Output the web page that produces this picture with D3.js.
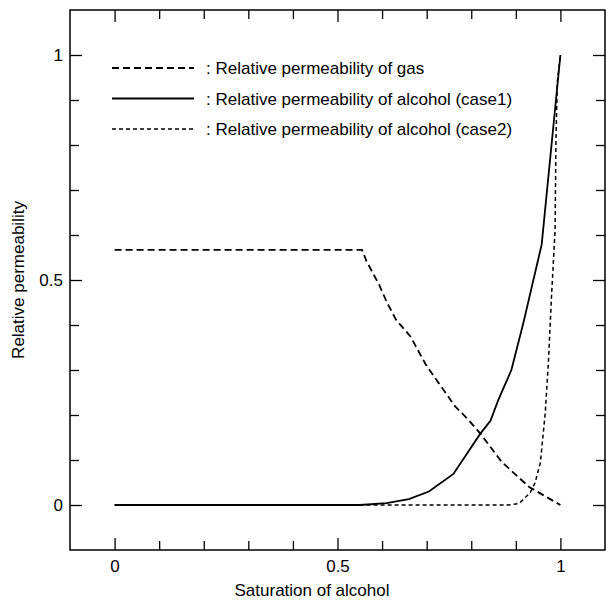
<!DOCTYPE html>
<html>
<head>
<meta charset="utf-8">
<script src="https://cdn.jsdelivr.net/npm/d3@7/dist/d3.min.js"></script>
<style>
    body { margin: 0; background: #fff; }
    svg { display: block; }
    text { font-family: "Liberation Sans", Arial, sans-serif; fill: #000; }
    .tick line { stroke: #000; stroke-width: 1.3; }
</style>
</head>
<body>
<svg id="chart" width="606" height="606"></svg>
<script>
// ----------------------------------------------------------------------------
// Data
// ----------------------------------------------------------------------------

// Relative permeability of gas
var gasSat = [0, 0.555, 0.565, 0.593, 0.611, 0.631, 0.664, 0.698, 0.764, 0.794, 0.821, 0.868, 0.93, 1.0];
var gasK   = [0.567, 0.567, 0.542, 0.49, 0.45, 0.412, 0.374, 0.312, 0.219, 0.189, 0.158, 0.096, 0.04, 0.0];

// Relative permeability of alcohol (case1)
var case1Sat = [0, 0.55, 0.61, 0.66, 0.705, 0.76, 0.82, 0.843, 0.861, 0.89, 0.917, 0.958, 1.0];
var case1K   = [0, 0, 0.004, 0.013, 0.03, 0.069, 0.158, 0.187, 0.234, 0.30, 0.405, 0.579, 1.0];

// Relative permeability of alcohol (case2)
var case2Sat = [0, 0.88, 0.9, 0.91, 0.932, 0.943, 0.955, 0.966, 0.973, 0.98, 0.988, 0.99, 0.993, 1.0];
var case2K   = [0, 0, 0.002, 0.006, 0.027, 0.049, 0.094, 0.205, 0.316, 0.463, 0.61, 0.81, 0.94, 1.0];

var legendLabels = [
    ": Relative permeability of gas",
    ": Relative permeability of alcohol (case1)",
    ": Relative permeability of alcohol (case2)"
];
var dashStyles = ["7,4", null, "4,3"];

var majorTicks = [0, 0.5, 1];
var minorTicks = d3.range(0, 11).map(function(i) { return i / 10; })
    .filter(function(v) { return majorTicks.indexOf(v) < 0; });

// ----------------------------------------------------------------------------
// Drawing
// ----------------------------------------------------------------------------

var fontSize = "17px";
var svg = d3.select("#chart");

var x = d3.scaleLinear().domain([-0.1, 1.1]).range([70, 605]);
var y = d3.scaleLinear().domain([-0.1, 1.1]).range([550, 10]);

function zipSeries(xs, ys) {
    return xs.map(function(v, i) { return [v, ys[i]]; });
}

var series = [zipSeries(gasSat, gasK), zipSeries(case1Sat, case1K), zipSeries(case2Sat, case2K)];
var widths = [1.8, 1.8, 1.5];

// Ticks on all four sides, pointing inward.
function addAxis(axisFn, scale, values, size, transform, labels, pad) {
    var g = svg.append("g")
        .attr("transform", transform)
        .call(axisFn(scale).tickValues(values).tickSize(size).tickPadding(pad || 3)
            .tickFormat(labels ? function(d) { return d; } : ""));
    g.select(".domain").remove();
    g.selectAll("text").style("font-size", fontSize)
        .style("font-family", "'Liberation Sans', Arial, sans-serif");
    return g;
}

addAxis(d3.axisBottom, x, minorTicks, -9, "translate(0,550)", false);
addAxis(d3.axisBottom, x, majorTicks, -12, "translate(0,550)", true, 10);
addAxis(d3.axisTop, x, minorTicks, -9, "translate(0,10)", false);
addAxis(d3.axisTop, x, majorTicks, -12, "translate(0,10)", false);
addAxis(d3.axisLeft, y, minorTicks, -9, "translate(70,0)", false);
addAxis(d3.axisLeft, y, majorTicks, -12, "translate(70,0)", true, 7);
addAxis(d3.axisRight, y, minorTicks, -9, "translate(605,0)", false);
addAxis(d3.axisRight, y, majorTicks, -12, "translate(605,0)", false);

// Frame
svg.append("rect")
    .attr("x", x(-0.1)).attr("y", y(1.1))
    .attr("width", x(1.1) - x(-0.1)).attr("height", y(-0.1) - y(1.1))
    .attr("fill", "none").attr("stroke", "#000").attr("stroke-width", 1.5);

// Curves
var line = d3.line()
    .x(function(d) { return x(d[0]); })
    .y(function(d) { return y(d[1]); });

series.forEach(function(s, i) {
    svg.append("path")
        .datum(s)
        .attr("d", line)
        .attr("fill", "none")
        .attr("stroke", "#000")
        .attr("stroke-width", widths[i])
        .attr("stroke-dasharray", dashStyles[i]);
});

// Legend
var legend = svg.append("g");
legendLabels.forEach(function(label, i) {
    var ly = 68 + i * 30.5;
    legend.append("line")
        .attr("x1", 112).attr("x2", 194)
        .attr("y1", ly).attr("y2", ly)
        .attr("stroke", "#000")
        .attr("stroke-width", widths[i])
        .attr("stroke-dasharray", dashStyles[i]);
    legend.append("text")
        .attr("x", 206).attr("y", ly + 6)
        .style("font-size", fontSize)
        .text(label);
});

// Axis titles
svg.append("text")
    .attr("x", 312).attr("y", 596)
    .attr("text-anchor", "middle")
    .style("font-size", fontSize)
    .text("Saturation of alcohol");

svg.append("text")
    .attr("transform", "translate(24,280) rotate(-90)")
    .attr("text-anchor", "middle")
    .style("font-size", fontSize)
    .text("Relative permeability");
</script>
</body>
</html>
